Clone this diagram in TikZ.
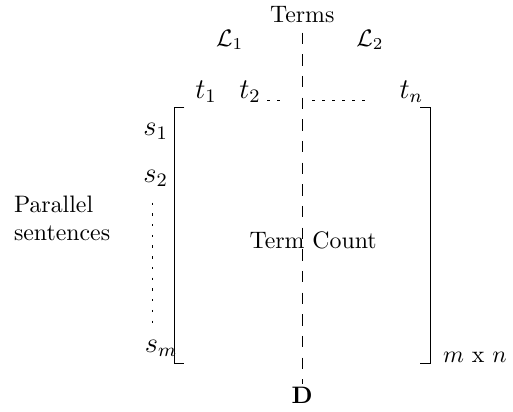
\documentclass[tikz,border=0pt]{standalone}
\usepackage{amsmath}
\begin{document}
\begin{tikzpicture}[every node/.style={font=\normalsize},
  term/.style={anchor=base, font=\large, inner sep=1pt},
  sent/.style={anchor=base west, font=\large, inner sep=0pt},
  hdots/.style={dash pattern=on 1.2pt off 3pt},
  vdots/.style={dash pattern=on 1pt off 3.5pt}]
  \useasboundingbox (0,0) rectangle (7.57,6.07);
  % header
  \node (terms) at (4.46,5.85) {Terms};
  \node (lang1) at (3.39,5.48) {$\mathcal{L}_1$};
  \node (lang2) at (5.46,5.48) {$\mathcal{L}_2$};
  % term row
  \node[term] (t1) at (3.04,4.62) {$t_1$};
  \node[term] (t2) at (3.69,4.62) {$t_2$};
  \node[term] (tn) at (6.07,4.62) {$t_n$};
  \coordinate (dotsA) at (3.94,4.59);
  \coordinate (dotsB) at (4.14,4.59);
  \coordinate (dotsC) at (4.61,4.59);
  \coordinate (dotsD) at (5.42,4.59);
  \draw[hdots] (dotsA) -- (dotsB);
  \draw[hdots] (dotsC) -- (dotsD);
  % sentence column
  \node[sent] (s1) at (2.11,4.07) {$s_1$};
  \node[sent] (s2) at (2.11,3.38) {$s_2$};
  \node[sent] (sm) at (2.13,0.87) {$s_m$};
  \coordinate (vdotA) at (2.25,3.08);
  \coordinate (vdotB) at (2.25,1.30);
  \draw[vdots] (vdotA) -- (vdotB);
  \node[anchor=west, align=left, inner sep=0pt] (par) at (0.20,2.85) {Parallel\\sentences};
  % matrix brackets
  \draw (2.72,4.49) -- (2.57,4.49) -- (2.57,0.71) -- (2.72,0.71);
  \draw (6.20,4.49) -- (6.35,4.49) -- (6.35,0.71) -- (6.20,0.71);
  \node (count) at (4.62,2.52) {Term Count};
  \node[anchor=base west, inner sep=0pt] (size) at (6.53,0.72) {$m$ x $n$};
  % split line
  \node[anchor=base, inner sep=1pt] (D) at (4.46,0.12) {$\mathbf{D}$};
  \coordinate (splittop) at (4.46,5.59);
  \draw[dash pattern=on 4.8pt off 4.3pt] (splittop) -- (D.north);
\end{tikzpicture}
\end{document}
